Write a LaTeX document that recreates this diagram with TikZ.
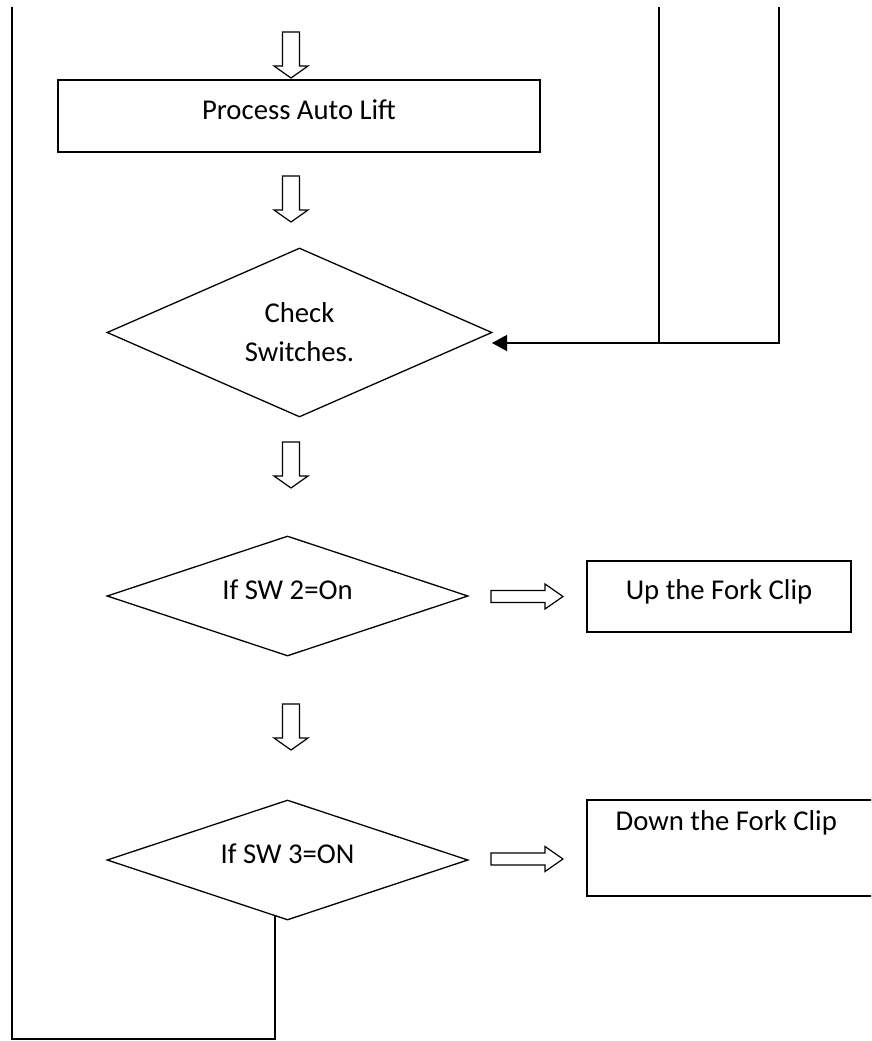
\documentclass[tikz,border=0pt]{standalone}
\usepackage{fontspec}
\setmainfont{Carlito}
\usetikzlibrary{shapes.geometric,arrows.meta}
\begin{document}
\begin{tikzpicture}[x=1pt,y=-1pt,line width=1.3pt,
  every node/.style={font=\fontsize{28.7}{39}\selectfont},
  box/.style={draw,rectangle,inner sep=0pt},
  dia/.style={draw,diamond,inner sep=0pt},
  oneline/.style={text height=18pt,text depth=12pt},
  blk/.style={draw,line width=1.2pt,line join=miter,fill=white},
  downarr/.pic={\path[blk] (-8.5,-46) -- (8.5,-46) -- (8.5,-12) -- (17,-12) -- (0,0) -- (-17,-12) -- (-8.5,-12) -- cycle;},
  rightarr/.pic={\path[blk] (-72,-6) -- (-18,-6) -- (-18,-12.5) -- (0,0) -- (-18,12.5) -- (-18,6) -- (-72,6) -- cycle;}
]
\useasboundingbox (0,0) rectangle (871,1041);
\clip (0,0) rectangle (871,1041);

% nodes
\node[box,oneline,minimum width=482pt,minimum height=72pt] (b1) at (299,116) {Process Auto Lift};
\node[dia,aspect=2.28,align=center,minimum width=385pt,minimum height=169pt] (d1) at (299.5,332.5) {Check\\Switches.};
\node[dia,aspect=3,oneline,minimum width=361pt,minimum height=120pt] (d2) at (287.5,596) {If SW 2=On};
\node[box,oneline,minimum width=264pt,minimum height=71pt] (b2) at (719,596.5) {Up the Fork Clip};
\node[dia,aspect=3,oneline,minimum width=361pt,minimum height=120pt] (d3) at (287.5,860) {If SW 3=ON};
\node[box,minimum width=293pt,minimum height=96pt] (b3) at (733.5,848) {};
\node[anchor=base west,inner sep=0pt] (t3) at (615,830) {Down the Fork Clip};

% block arrows
\pic at (291,78) {downarr};
\pic at (291,222) {downarr};
\pic at (291,488) {downarr};
\pic at (291,750) {downarr};
\pic at (563,596.5) {rightarr};
\pic at (563,859) {rightarr};

% feedback from the right
\coordinate (fbA) at (779,7);
\coordinate (fbB) at (659,7);
\coordinate (fbtip) at (492,343);
\draw[-{Triangle[length=15pt,width=16pt]}] (fbA) |- (fbtip);
\draw (fbB) -- (fbB |- fbtip);

% loop from last decision
\coordinate (loopA) at (275,916);
\coordinate (loopC) at (12,1039);
\coordinate (loopB) at (12,7);
\draw (loopA) |- (loopC) -- (loopB);
\end{tikzpicture}
\end{document}
